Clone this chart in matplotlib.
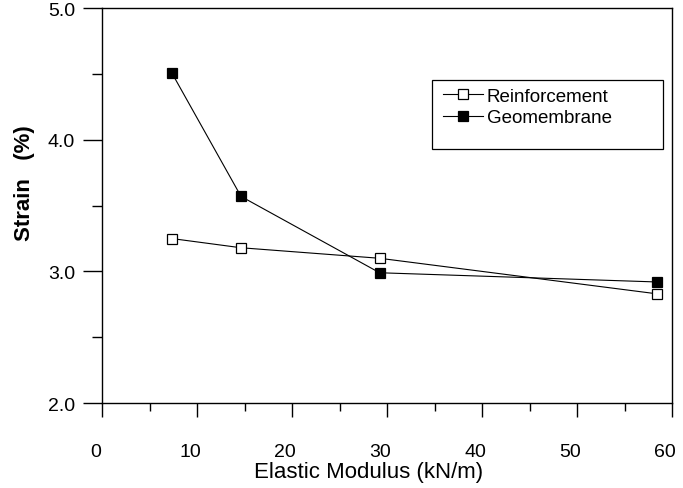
import matplotlib
matplotlib.use("Agg")
import matplotlib.pyplot as plt
import matplotlib.transforms as mtransforms
from matplotlib.patches import Rectangle
from matplotlib.ticker import MultipleLocator

plt.rcParams['font.family'] = ['Liberation Sans', 'DejaVu Sans']

# strain vs. elastic modulus of the reinforcement
modulus = [7.3, 14.6, 29.2, 58.4]
strain_reinf = [3.25, 3.18, 3.10, 2.83]
strain_geomem = [4.51, 3.57, 2.99, 2.92]

x_ticks = [0, 10, 20, 30, 40, 50, 60]
y_ticks = [2.0, 3.0, 4.0, 5.0]

fig = plt.figure(figsize=(6.83, 4.89), dpi=100)
ax = fig.add_axes([0.1500, 0.1738, 0.8339, 0.8072])

ax.plot(modulus, strain_reinf, color='black', lw=0.8, marker='s', ms=7,
        mfc='white', mec='black', mew=0.9, label='Reinforcement')
ax.plot(modulus, strain_geomem, color='black', lw=0.8, marker='s', ms=7,
        mfc='black', mec='black', mew=0.9, label='Geomembrane')

ax.set_xlim(0, 60)
ax.set_ylim(2.0, 5.0)
ax.set_xticks(x_ticks)
ax.set_yticks(y_ticks)
ax.set_yticklabels([f"{v:.1f}" for v in y_ticks])
ax.xaxis.set_minor_locator(MultipleLocator(5))
ax.yaxis.set_minor_locator(MultipleLocator(0.5))

ax.tick_params(axis='x', which='major', direction='out', length=10, width=1,
               pad=18.5, labelsize=14)
ax.tick_params(axis='x', which='minor', direction='out', length=5.5, width=1)
ax.tick_params(axis='y', which='major', direction='out', length=13.7, width=1,
               pad=6, labelsize=14)
ax.tick_params(axis='y', which='minor', direction='out', length=7.2, width=1)

# x tick labels sit a little left of their ticks
shift = mtransforms.ScaledTranslation(-7 / 100, 0, fig.dpi_scale_trans)
for lab in ax.get_xticklabels():
    lab.set_transform(lab.get_transform() + shift)

for sp in ax.spines.values():
    sp.set_linewidth(1.0)

ax.set_xlabel('Elastic Modulus (kN/m)', fontsize=16)
ax.xaxis.set_label_coords(0.467, -0.146)
ax.set_ylabel('Strain   (%)', fontsize=16, fontweight='bold')
ax.yaxis.set_label_coords(-0.118, 0.56)

leg = ax.legend(loc='center left', bbox_to_anchor=(0.598, 0.75), fontsize=13.5,
                frameon=False, handlelength=2.13, handletextpad=0.2,
                labelspacing=0.25, borderpad=0, borderaxespad=0)

# legend box, wider than the entries
ax.add_patch(Rectangle((0.5786, 0.6435), 0.4054, 0.1745, transform=ax.transAxes,
                       fill=False, edgecolor='black', lw=0.9, zorder=5))

fig.savefig('out.png', dpi=100)
